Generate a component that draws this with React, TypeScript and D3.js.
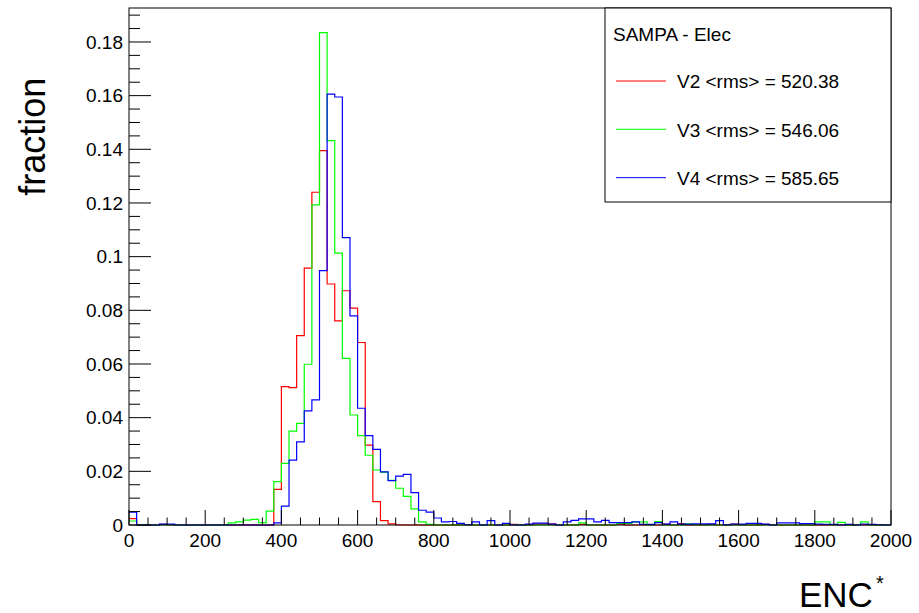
import React from "react";
import * as d3 from "d3";

const binEdges: number[] = d3.range(0, 2001, 20);

const v2: number[] = [
  0.0024, 0, 0, 0, 0.0002, 0, 0, 0, 0, 0,
  0, 0, 0, 0, 0, 0, 0, 0, 0, 0.0133,
  0.0516, 0.0512, 0.0706, 0.0957, 0.124, 0.1395, 0.0898, 0.0761, 0.0873, 0.0808,
  0.068, 0.0298, 0.0087, 0.0016, 0.0004, 0, 0, 0, 0, 0,
  0, 0, 0, 0, 0, 0, 0, 0, 0, 0,
  0.0002, 0, 0, 0.0004, 0.0004, 0.0004, 0, 0, 0, 0.0002,
  0, 0, 0, 0, 0.0002, 0, 0, 0, 0, 0,
  0.0003, 0, 0.0005, 0, 0, 0, 0.0002, 0, 0, 0.0003,
  0, 0, 0, 0.0002, 0, 0, 0, 0, 0, 0,
  0, 0, 0, 0, 0, 0, 0, 0, 0, 0,
];

const v3: number[] = [
  0.0015, 0, 0, 0, 0, 0, 0, 0, 0, 0,
  0, 0, 0, 0.0008, 0.0012, 0.0018, 0.0021, 0.0009, 0.0052, 0.0162,
  0.023, 0.035, 0.0379, 0.0599, 0.1193, 0.1835, 0.1432, 0.1013, 0.0621, 0.041,
  0.0333, 0.026, 0.0205, 0.0197, 0.0166, 0.0137, 0.0107, 0.006, 0.0012, 0.0002,
  0, 0, 0, 0, 0, 0, 0, 0, 0, 0,
  0, 0, 0, 0, 0, 0, 0, 0, 0, 0.0008,
  0, 0, 0, 0, 0.0006, 0.0006, 0.0012, 0.0012, 0, 0.0013,
  0, 0, 0, 0.0004, 0, 0, 0, 0, 0, 0,
  0, 0, 0, 0, 0, 0, 0, 0, 0, 0,
  0.0012, 0.0012, 0, 0.001, 0, 0, 0.0012, 0, 0, 0,
];

const v4: number[] = [
  0.0048, 0, 0, 0, 0.0003, 0.0003, 0, 0, 0, 0,
  0, 0, 0, 0, 0, 0, 0, 0, 0, 0.0008,
  0.007, 0.0242, 0.031, 0.0425, 0.0466, 0.0948, 0.1606, 0.1595, 0.1071, 0.0779,
  0.0435, 0.0333, 0.0282, 0.0198, 0.0165, 0.0182, 0.0189, 0.0121, 0.0055, 0.0048,
  0.0026, 0.0012, 0.0013, 0.0006, 0.0001, 0.0012, 0, 0.0016, 0, 0.0006,
  0, 0, 0.0003, 0.0007, 0.0007, 0.0003, 0, 0.0012, 0.0017, 0.0023,
  0.0023, 0.0012, 0.0017, 0.0009, 0.0009, 0.0009, 0.0012, 0.0002, 0.0002, 0.0009,
  0.0003, 0.0012, 0.0003, 0.0003, 0.0004, 0.0004, 0.0004, 0.0016, 0.0001, 0.0003,
  0.0003, 0.0006, 0.0006, 0.0003, 0, 0.0008, 0.0008, 0.0008, 0.0005, 0.0005,
  0.0003, 0.0002, 0.0002, 0, 0.0002, 0, 0.0003, 0.0002, 0.0001, 0,
];

const seriesNames: string[] = ["V2 <rms> = 520.38", "V3 <rms> = 546.06", "V4 <rms> = 585.65"];
const seriesColors: string[] = ["#ff0000", "#00ff00", "#0000ff"];
const seriesValues: number[][] = [v2, v3, v4];

const yTicks: number[] = [0, 0.02, 0.04, 0.06, 0.08, 0.1, 0.12, 0.14, 0.16, 0.18];
const yTickLabels: string[] = ["0", "0.02", "0.04", "0.06", "0.08", "0.1", "0.12", "0.14", "0.16", "0.18"];
const xTicks: number[] = [0, 200, 400, 600, 800, 1000, 1200, 1400, 1600, 1800, 2000];

const W = 919;
const H = 613;
const left = 129;
const right = 891;
const top = 8;
const bottom = 525;
const yMax = 0.02 * (bottom - top) / 53.67;
const FONT = "'Liberation Sans', Arial, Helvetica, sans-serif";

export default function App() {
  const x = d3.scaleLinear().domain([0, 2000]).range([left, right]);
  const y = d3.scaleLinear().domain([0, yMax]).range([bottom, top]);

  const line = d3
    .line<[number, number]>()
    .x((d) => x(d[0]))
    .y((d) => y(d[1]))
    .curve(d3.curveStepAfter);

  const paths = seriesValues.map((vals) => {
    const pts: [number, number][] = vals.map((v, i) => [binEdges[i], v]);
    pts.push([binEdges[vals.length], vals[vals.length - 1]]);
    return line(pts) || "";
  });

  const yMinor = d3.range(0, yMax, 0.005).filter((t) => Math.abs(Math.round(t / 0.02) * 0.02 - t) > 1e-6);
  const xMinor = d3.range(0, 2001, 50).filter((t) => t % 200 !== 0);

  const legendY = [81, 129.3, 177.7];

  return (
    <svg width={W} height={H} style={{ position: "absolute", left: 0, top: 0, background: "#fff" }}>
      <rect x={0} y={0} width={W} height={H} fill="#fff" />
      <defs>
        <clipPath id="plotclip">
          <rect x={left} y={top} width={right - left} height={bottom - top + 1} />
        </clipPath>
      </defs>
      <g clipPath="url(#plotclip)">
        {paths.map((d, i) => (
          <path key={i} d={d} fill="none" stroke={seriesColors[i]} strokeWidth={1.2} />
        ))}
      </g>
      {/* frame */}
      <rect x={left} y={top} width={right - left} height={bottom - top} fill="none" stroke="#000" strokeWidth={1} />
      {/* y ticks */}
      {yTicks.map((t) => (
        <line key={"ym" + t} x1={left} x2={left + 22} y1={y(t)} y2={y(t)} stroke="#000" strokeWidth={1} />
      ))}
      {yMinor.map((t) => (
        <line key={"yn" + t} x1={left} x2={left + 11} y1={y(t)} y2={y(t)} stroke="#000" strokeWidth={1} />
      ))}
      {yTicks.map((t, i) => (
        <text key={"yl" + t} x={123} y={y(t)} dy="0.35em" textAnchor="end" fontFamily={FONT} fontSize={19} fill="#000">
          {yTickLabels[i]}
        </text>
      ))}
      {/* x ticks */}
      {xTicks.map((t) => (
        <line key={"xm" + t} x1={x(t)} x2={x(t)} y1={bottom} y2={bottom - 15} stroke="#000" strokeWidth={1} />
      ))}
      {xMinor.map((t) => (
        <line key={"xn" + t} x1={x(t)} x2={x(t)} y1={bottom} y2={bottom - 7.5} stroke="#000" strokeWidth={1} />
      ))}
      {xTicks.map((t) => (
        <text key={"xl" + t} x={x(t)} y={547} textAnchor="middle" fontFamily={FONT} fontSize={19} fill="#000">
          {String(t)}
        </text>
      ))}
      {/* axis titles */}
      <text transform="translate(45,136.7) rotate(-90)" textAnchor="middle" fontFamily={FONT} fontSize={36} fill="#000">
        fraction
      </text>
      <text x={799} y={607} fontFamily={FONT} fontSize={35} fill="#000">
        ENC
      </text>
      <text x={876} y={590} fontFamily={FONT} fontSize={20} fill="#000">
        *
      </text>
      {/* legend */}
      <rect x={605} y={top} width={right - 605} height={202 - top} fill="#fff" stroke="#000" strokeWidth={1} />
      <text x={613} y={40.7} fontFamily={FONT} fontSize={19} fill="#000">
        SAMPA - Elec
      </text>
      {seriesNames.map((n, i) => (
        <g key={n}>
          <line x1={616} x2={666} y1={legendY[i]} y2={legendY[i]} stroke={seriesColors[i]} strokeWidth={1} />
          <text x={677} y={legendY[i] + 7.3} fontFamily={FONT} fontSize={19} fill="#000">
            {n}
          </text>
        </g>
      ))}
    </svg>
  );
}
